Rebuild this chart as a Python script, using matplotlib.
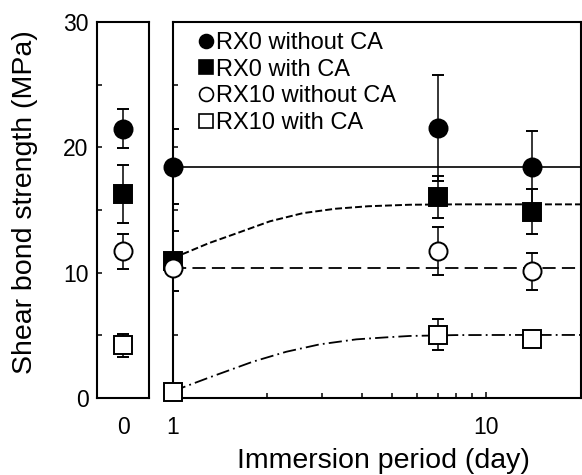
import matplotlib.pyplot as plt
from matplotlib.lines import Line2D
from matplotlib.ticker import FixedLocator, NullFormatter

plt.rcParams['font.family'] = ['Liberation Sans', 'DejaVu Sans']
plt.rcParams['lines.scale_dashes'] = False

labels = ["RX0 without CA", "RX0 with CA", "RX10 without CA", "RX10 with CA"]
markers = ["o", "s", "o", "s"]
faces = ["black", "black", "white", "white"]

# day 0 (left panel)
y_day0 = [21.5, 16.3, 11.7, 4.2]
err_day0 = [1.55, 2.3, 1.4, 0.9]

# immersion periods (right panel)
days = [1, 7, 14]
y_days = [
    [18.45, 21.55, 18.4],   # RX0 without CA
    [10.9, 16.05, 14.85],   # RX0 with CA
    [10.4, 11.75, 10.1],    # RX10 without CA
    [0.5, 5.05, 4.7],       # RX10 with CA
]
err_days = [
    [3.0, 4.25, 2.9],
    [2.4, 1.65, 1.8],
    [0.0, 1.9, 1.5],
    [0.0, 1.25, 0.0],
]

# fitted trend lines
fit0_t = [1, 20]
fit0_y = [18.42, 18.42]
fit1_t = [1, 1.09, 1.3, 1.6, 2.04, 2.6, 3.3, 4.2, 5.7, 8, 12, 20]
fit1_y = [11.2, 11.55, 12.35, 13.15, 14.1, 14.75, 15.1, 15.3, 15.42, 15.45, 15.45, 15.45]
fit2_t = [1, 20]
fit2_y = [10.35, 10.35]
fit3_t = [1, 1.09, 1.31, 1.8, 2.3, 2.94, 3.85, 4.8, 5.7, 8, 12, 20]
fit3_y = [0.55, 0.9, 1.65, 2.9, 3.69, 4.28, 4.68, 4.84, 4.95, 5.02, 5.03, 5.03]

fig = plt.figure(figsize=(5.82, 4.75), dpi=100)
W, H = 582, 475
ax0 = fig.add_axes([97 / W, 77 / H, 52 / W, 376 / H])
ax1 = fig.add_axes([173 / W, 77 / H, 407.5 / W, 376 / H])

ms = [13, 12.5, 13, 12.5]


def draw(ax, x, y, err, i):
    line, caps, bars = ax.errorbar(x, y, yerr=err, fmt=markers[i], ms=ms[i],
                                   mfc=faces[i], mec="black", mew=1.4,
                                   ecolor="black", elinewidth=1.1, capsize=4,
                                   capthick=1.1, zorder=3 + i * 0.1)
    line.set_clip_on(False)


# left panel
for i in range(4):
    draw(ax0, [0], [y_day0[i]], [err_day0[i]], i)
ax0.set_xlim(-1, 1)
ax0.set_ylim(0, 30)
ax0.set_xticks([0])
ax0.set_yticks([0, 10, 20, 30])
ax0.yaxis.set_minor_locator(FixedLocator([5, 15, 25]))
ax0.tick_params(axis="y", which="both", direction="in", length=3.5, width=1.1,
                labelsize=16.5, pad=6)
ax0.tick_params(axis="x", length=0, labelsize=16.5, pad=13)

# right panel
ax1.plot(fit0_t, fit0_y, color="black", lw=1.2, zorder=2)
ax1.plot(fit1_t, fit1_y, color="black", lw=1.4, ls=(0, (5, 2.2)), zorder=2)
ax1.plot(fit2_t, fit2_y, color="black", lw=1.3, ls=(0, (9.5, 4.5)), zorder=2)
ax1.plot(fit3_t, fit3_y, color="black", lw=1.3, ls=(0, (9.5, 3, 1.3, 3)), zorder=2)
for i in range(4):
    draw(ax1, days, y_days[i], err_days[i], i)
ax1.set_xscale("log")
ax1.set_xlim(1, 20)
ax1.set_ylim(0, 30)
ax1.xaxis.set_major_locator(FixedLocator([1, 10]))
ax1.xaxis.set_minor_locator(FixedLocator([2, 3, 4, 5, 6, 7, 8, 9, 20]))
ax1.xaxis.set_minor_formatter(NullFormatter())
ax1.set_xticklabels(["1", "10"])
ax1.set_yticks([0, 5, 10, 15, 20, 25, 30])
ax1.tick_params(axis="y", direction="in", length=3.5, width=1.1, labelleft=False)
ax1.tick_params(axis="x", which="major", direction="in", length=4.5, width=1.1,
                labelsize=16.5, pad=13)
ax1.tick_params(axis="x", which="minor", direction="in", length=3.5, width=1.1)

for ax in (ax0, ax1):
    for s in ax.spines.values():
        s.set_linewidth(1.5)

handles = [Line2D([], [], marker=markers[i], ls="none", ms=[10, 9.5, 10, 9.5][i],
                  mfc=faces[i], mec="black", mew=1.2) for i in range(4)]
ax1.legend(handles, labels, loc="upper left", frameon=False, fontsize=17,
           handlelength=0.6, handletextpad=0.12, labelspacing=0.2,
           borderaxespad=0.2, borderpad=0.3, bbox_to_anchor=(0.035, 1.005))

fig.text(25.5 / W, 0.575, "Shear bond strength (MPa)", rotation=90,
         ha="center", va="center", fontsize=20.5)
fig.text(0.658, 7 / H, "Immersion period (day)", ha="center", va="baseline",
         fontsize=20.5)

fig.savefig("out.png", dpi=100)
